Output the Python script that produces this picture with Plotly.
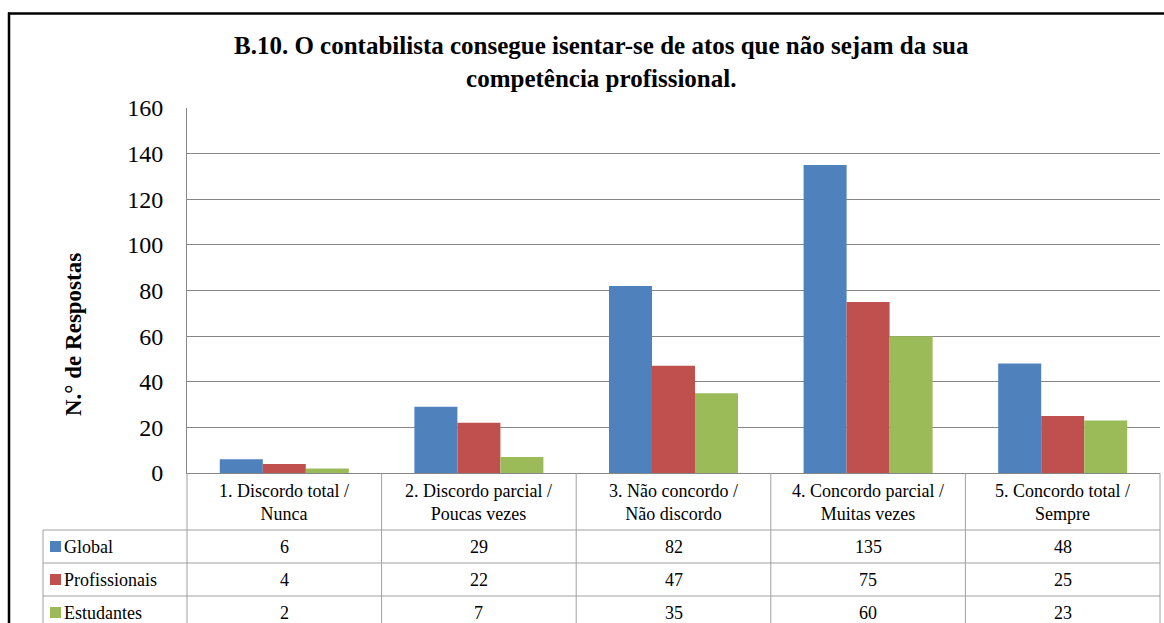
import plotly.graph_objects as go

categories = ["1. Discordo total /<br>Nunca", "2. Discordo parcial /<br>Poucas vezes",
              "3. Não concordo /<br>Não discordo", "4. Concordo parcial /<br>Muitas vezes",
              "5. Concordo total /<br>Sempre"]
series_names = ["Global", "Profissionais", "Estudantes"]
global_vals = [6, 29, 82, 135, 48]
prof_vals = [4, 22, 47, 75, 25]
estud_vals = [2, 7, 35, 60, 23]
colors = ["#4F81BD", "#C0504D", "#9BBB59"]
y_ticks = [0, 20, 40, 60, 80, 100, 120, 140, 160]
title_text = ("B.10. O contabilista consegue isentar-se de atos que não sejam da sua<br>"
              "competência profissional.")
y_title = "N.° de Respostas"

W, H = 1164, 623
L, R, T, B = 187, 1160, 108, 473
FONT = "Liberation Serif"


def px_x(X):
    return (X - L) / (R - L)


def px_y(Y):
    return (B - Y) / (B - T)


series_vals = [global_vals, prof_vals, estud_vals]
x_idx = list(range(len(categories)))

fig = go.Figure()
for name, vals, col in zip(series_names, series_vals, colors):
    fig.add_trace(go.Bar(x=x_idx, y=vals, name=name, marker=dict(color=col, line=dict(width=0))))

shapes = []
annotations = []
grid_col = "#A0A0A0"

# Table geometry (pixels)
table_left = 43
row_lines = [530, 563, 596]
row_centers = [546.5, 579.5, 612.5]
col_w = (R - L) / len(categories)

# vertical lines of columns
for i in range(len(categories) + 1):
    X = L + i * col_w
    shapes.append(dict(type="line", xref="paper", yref="paper", x0=px_x(X), x1=px_x(X),
                       y0=px_y(B), y1=px_y(640), line=dict(color=grid_col, width=1)))
# legend column left border
shapes.append(dict(type="line", xref="paper", yref="paper", x0=px_x(table_left), x1=px_x(table_left),
                   y0=px_y(row_lines[0]), y1=px_y(640), line=dict(color=grid_col, width=1)))
# horizontal row lines
for Y in row_lines:
    shapes.append(dict(type="line", xref="paper", yref="paper", x0=px_x(table_left), x1=px_x(R),
                       y0=px_y(Y), y1=px_y(Y), line=dict(color=grid_col, width=1)))

# header labels
for i, c in enumerate(categories):
    annotations.append(dict(x=px_x(L + (i + 0.5) * col_w), y=px_y(503), xref="paper", yref="paper",
                            text=c, showarrow=False, font=dict(family=FONT, size=18, color="#000"),
                            xanchor="center", yanchor="middle"))
# rows
for r, (name, vals, col) in enumerate(zip(series_names, series_vals, colors)):
    yc = row_centers[r]
    shapes.append(dict(type="rect", xref="paper", yref="paper", x0=px_x(50), x1=px_x(61),
                       y0=px_y(yc - 5.5), y1=px_y(yc + 5.5), fillcolor=col, line=dict(width=0)))
    annotations.append(dict(x=px_x(62), y=px_y(yc), xref="paper", yref="paper", text=name,
                            showarrow=False, font=dict(family=FONT, size=18, color="#000"),
                            xanchor="left", yanchor="middle"))
    for i, v in enumerate(vals):
        annotations.append(dict(x=px_x(L + (i + 0.5) * col_w), y=px_y(yc), xref="paper", yref="paper",
                                text=str(v), showarrow=False, font=dict(family=FONT, size=18, color="#000"),
                                xanchor="center", yanchor="middle"))

# title
annotations.append(dict(x=px_x(601), y=px_y(62), xref="paper", yref="paper", text="<b>" + title_text + "</b>",
                        showarrow=False, font=dict(family=FONT, size=25, color="#000"),
                        xanchor="center", yanchor="middle"))
# y title
annotations.append(dict(x=px_x(73), y=px_y(335), xref="paper", yref="paper", text="<b>" + y_title + "</b>",
                        textangle=-90, showarrow=False, font=dict(family=FONT, size=23, color="#000"),
                        xanchor="center", yanchor="middle"))

# outer black frame (top and left)
shapes.append(dict(type="line", xref="paper", yref="paper", x0=px_x(8), x1=px_x(1175),
                   y0=px_y(13.5), y1=px_y(13.5), line=dict(color="#000", width=2.5)))
shapes.append(dict(type="line", xref="paper", yref="paper", x0=px_x(9), x1=px_x(9),
                   y0=px_y(12.5), y1=px_y(640), line=dict(color="#000", width=2.5)))

fig.update_layout(
    width=W, height=H,
    margin=dict(l=L, r=W - R, t=T, b=H - B),
    paper_bgcolor="white", plot_bgcolor="white",
    barmode="group", bargap=0.337, bargroupgap=0,
    showlegend=False,
    shapes=shapes, annotations=annotations,
    font=dict(family=FONT, color="#000"),
)
fig.update_xaxes(range=[-0.5, len(categories) - 0.5], showticklabels=False, showgrid=False,
                 showline=True, linecolor="#868686", linewidth=1, zeroline=False, fixedrange=True)
fig.update_yaxes(range=[0, 160], tickvals=y_ticks, showgrid=True, gridcolor="#868686", gridwidth=1,
                 showline=True, linecolor="#868686", linewidth=1, zeroline=False,
                 tickfont=dict(family=FONT, size=24, color="#000"), ticklabelstandoff=18,
                 fixedrange=True)

fig.write_html("out.html", config={"displayModeBar": False},
               post_script="document.body.style.margin='0';document.body.style.overflow='hidden';")
